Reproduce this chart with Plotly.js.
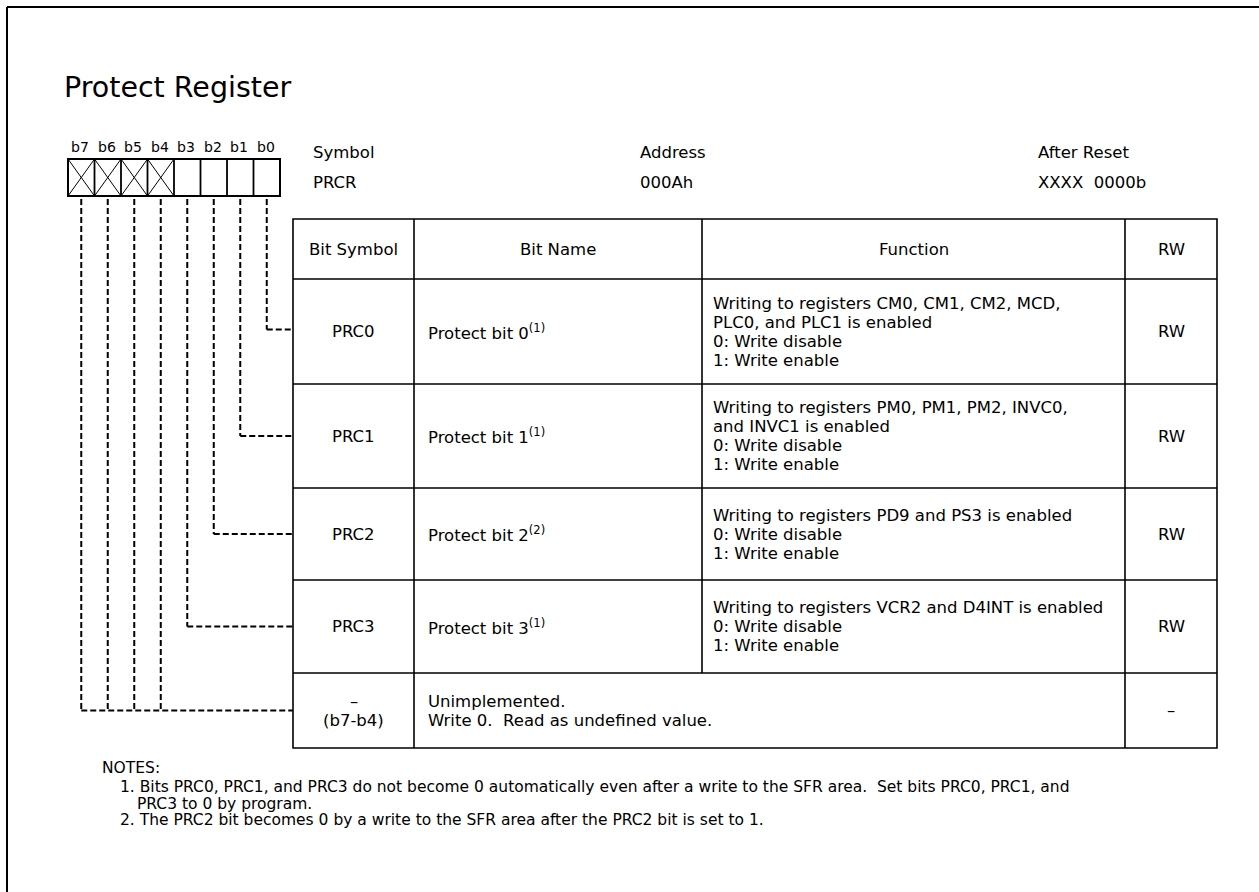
<!DOCTYPE html>
<html>
<head>
<meta charset="utf-8">
<script src="https://cdn.plot.ly/plotly-3.0.1.min.js"></script>
<style>html,body{margin:0;padding:0;background:#fff;}</style>
</head>
<body>
<div id="chart" style="width:1259px;height:892px;"></div>
<script>
// ---------- data ----------
const titleText = "Protect Register";
const bitLabels = ["b7", "b6", "b5", "b4", "b3", "b2", "b1", "b0"];
const bitReserved = [true, true, true, true, false, false, false, false];
const infoLabels = ["Symbol", "Address", "After Reset"];
const infoValues = ["PRCR", "000Ah", "XXXX\u00a0 0000b"];
const columnTitles = ["Bit Symbol", "Bit Name", "Function", "RW"];
const bitSymbols = [["PRC0"], ["PRC1"], ["PRC2"], ["PRC3"], ["\u2013", "(b7-b4)"]];
const bitNames = ["Protect bit 0<sup>(1)</sup>", "Protect bit 1<sup>(1)</sup>",
                  "Protect bit 2<sup>(2)</sup>", "Protect bit 3<sup>(1)</sup>", ""];
const functionLines = [
  ["Writing to registers CM0, CM1, CM2, MCD,", "PLC0, and PLC1 is enabled", "0: Write disable", "1: Write enable"],
  ["Writing to registers PM0, PM1, PM2, INVC0,", "and INVC1 is enabled", "0: Write disable", "1: Write enable"],
  ["Writing to registers PD9 and PS3 is enabled", "0: Write disable", "1: Write enable"],
  ["Writing to registers VCR2 and D4INT is enabled", "0: Write disable", "1: Write enable"],
  ["Unimplemented.", "Write 0.\u00a0 Read as undefined value."]
];
const rwValues = ["RW", "RW", "RW", "RW", "\u2013"];
const rowBitIndex = [[0], [1], [2], [3], [4, 5, 6, 7]];   // register bits wired to each row
const notesHeading = "NOTES:";
const notesLines = [
  "1. Bits PRC0, PRC1, and PRC3 do not become 0 automatically even after a write to the SFR area.\u00a0 Set bits PRC0, PRC1, and",
  "PRC3 to 0 by program.",
  "2. The PRC2 bit becomes 0 by a write to the SFR area after the PRC2 bit is set to 1."
];
const notesIndent = [0, 1, 0];

// ---------- layout constants ----------
const W = 1259, H = 892;
const FONT = "DejaVu Sans, Liberation Sans, Arial, sans-serif";
const BODY = 16.5;
const NOTE = 15.5;
const box = {x0: 68, y0: 159, y1: 196, cell: 26.5};
const cols = [293, 414, 702, 1125, 1217];
const rowEdges = [219, 279, 384, 488, 580, 673, 748];
const LINE = 19;
const infoX = [313, 640, 1038];
const infoY = [152, 182];
const notesX = 102, notesItemX = 120, notesIndentX = 137;
const notesY0 = 768, notesY1 = 787, notesGap = 16.5;

const shapes = [];
const ann = [];
function line(x0, y0, x1, y1, w, dash) {
  shapes.push({type: "line", xref: "x", yref: "y", x0, y0, x1, y1,
               line: {color: "#000", width: w, dash: dash || "solid"}});
}
function text(t, x, y, size, anchor) {
  ann.push({text: t, x, y, xref: "x", yref: "y", showarrow: false,
            xanchor: anchor || "left", yanchor: "middle", borderpad: 0, borderwidth: 0,
            font: {family: FONT, size: size, color: "#000"}});
}

// outer frame (top and left edges visible)
line(7, 7, W + 2, 7, 2);
line(7, 7, 7, H + 2, 2);

// title
text(titleText, 64, 87, 28.5);

// register bit boxes
const nb = bitLabels.length;
const boxX1 = box.x0 + nb * box.cell;
shapes.push({type: "rect", xref: "x", yref: "y", x0: box.x0, x1: boxX1, y0: box.y0, y1: box.y1,
             line: {color: "#000", width: 2}});
bitLabels.forEach((lab, i) => {
  const xl = box.x0 + i * box.cell, xr = xl + box.cell;
  if (i > 0) line(xl, box.y0, xl, box.y1, 1.8);
  if (bitReserved[i]) {
    line(xl, box.y0, xr, box.y1, 1);
    line(xl, box.y1, xr, box.y0, 1);
  }
  text(lab, xl + box.cell / 2 - 1, 147, 14, "center");
});

// symbol / address / reset
infoLabels.forEach((lab, i) => {
  text(lab, infoX[i], infoY[0], BODY);
  text(infoValues[i], infoX[i], infoY[1], BODY);
});

// table frame
const tX0 = cols[0], tX1 = cols[cols.length - 1];
const tY0 = rowEdges[0], tY1 = rowEdges[rowEdges.length - 1];
shapes.push({type: "rect", xref: "x", yref: "y", x0: tX0, x1: tX1, y0: tY0, y1: tY1,
             line: {color: "#000", width: 1.6}});
for (let r = 1; r < rowEdges.length - 1; r++) line(tX0, rowEdges[r], tX1, rowEdges[r], 1.6);
const nRows = bitSymbols.length;
[1, 3].forEach(c => line(cols[c], tY0, cols[c], tY1, 1.6));
// Bit Name / Function divider stops above the merged last row
line(cols[2], tY0, cols[2], rowEdges[rowEdges.length - 2], 1.6);

// header row
const hy = (rowEdges[0] + rowEdges[1]) / 2;
columnTitles.forEach((t, c) => text(t, (cols[c] + cols[c + 1]) / 2, hy, BODY, "center"));

// body rows
for (let r = 0; r < nRows; r++) {
  const yc = (rowEdges[r + 1] + rowEdges[r + 2]) / 2;
  const sym = bitSymbols[r];
  sym.forEach((s, k) => text(s, (cols[0] + cols[1]) / 2, yc + (k - (sym.length - 1) / 2) * LINE, BODY, "center"));
  const merged = bitNames[r] === "";
  if (!merged) text(bitNames[r], cols[1] + 14, yc, BODY);
  const fl = functionLines[r];
  const fx = merged ? cols[1] + 14 : cols[2] + 11;
  fl.forEach((s, k) => text(s, fx, yc + (k - (fl.length - 1) / 2) * LINE, BODY));
  text(rwValues[r], (cols[3] + cols[4]) / 2, yc, BODY, "center");

  // dashed wiring from register bits to this row
  const bits = rowBitIndex[r];
  const xs = bits.map(b => box.x0 + (nb - 1 - b) * box.cell + box.cell / 2);
  const dy = yc - (r === 0 ? 2 : 0);
  xs.forEach(x => line(x, box.y1 + 3, x, dy, 2, "6px,3px"));
  line(Math.min(...xs), dy, tX0, dy, 2, "6px,3px");
}

// notes
text(notesHeading, notesX, notesY0, NOTE);
notesLines.forEach((s, k) => {
  const x0 = notesIndent[k] ? notesIndentX : notesItemX;
  text(s, x0, notesY1 + k * notesGap, NOTE);
});

Plotly.newPlot("chart", [], {
  width: W, height: H, autosize: false,
  margin: {l: 0, r: 0, t: 0, b: 0, pad: 0},
  paper_bgcolor: "#fff", plot_bgcolor: "#fff",
  xaxis: {range: [0, W], visible: false, fixedrange: true},
  yaxis: {range: [H, 0], visible: false, fixedrange: true},
  shapes: shapes, annotations: ann, showlegend: false
}, {displayModeBar: false, staticPlot: true});
</script>
</body>
</html>
